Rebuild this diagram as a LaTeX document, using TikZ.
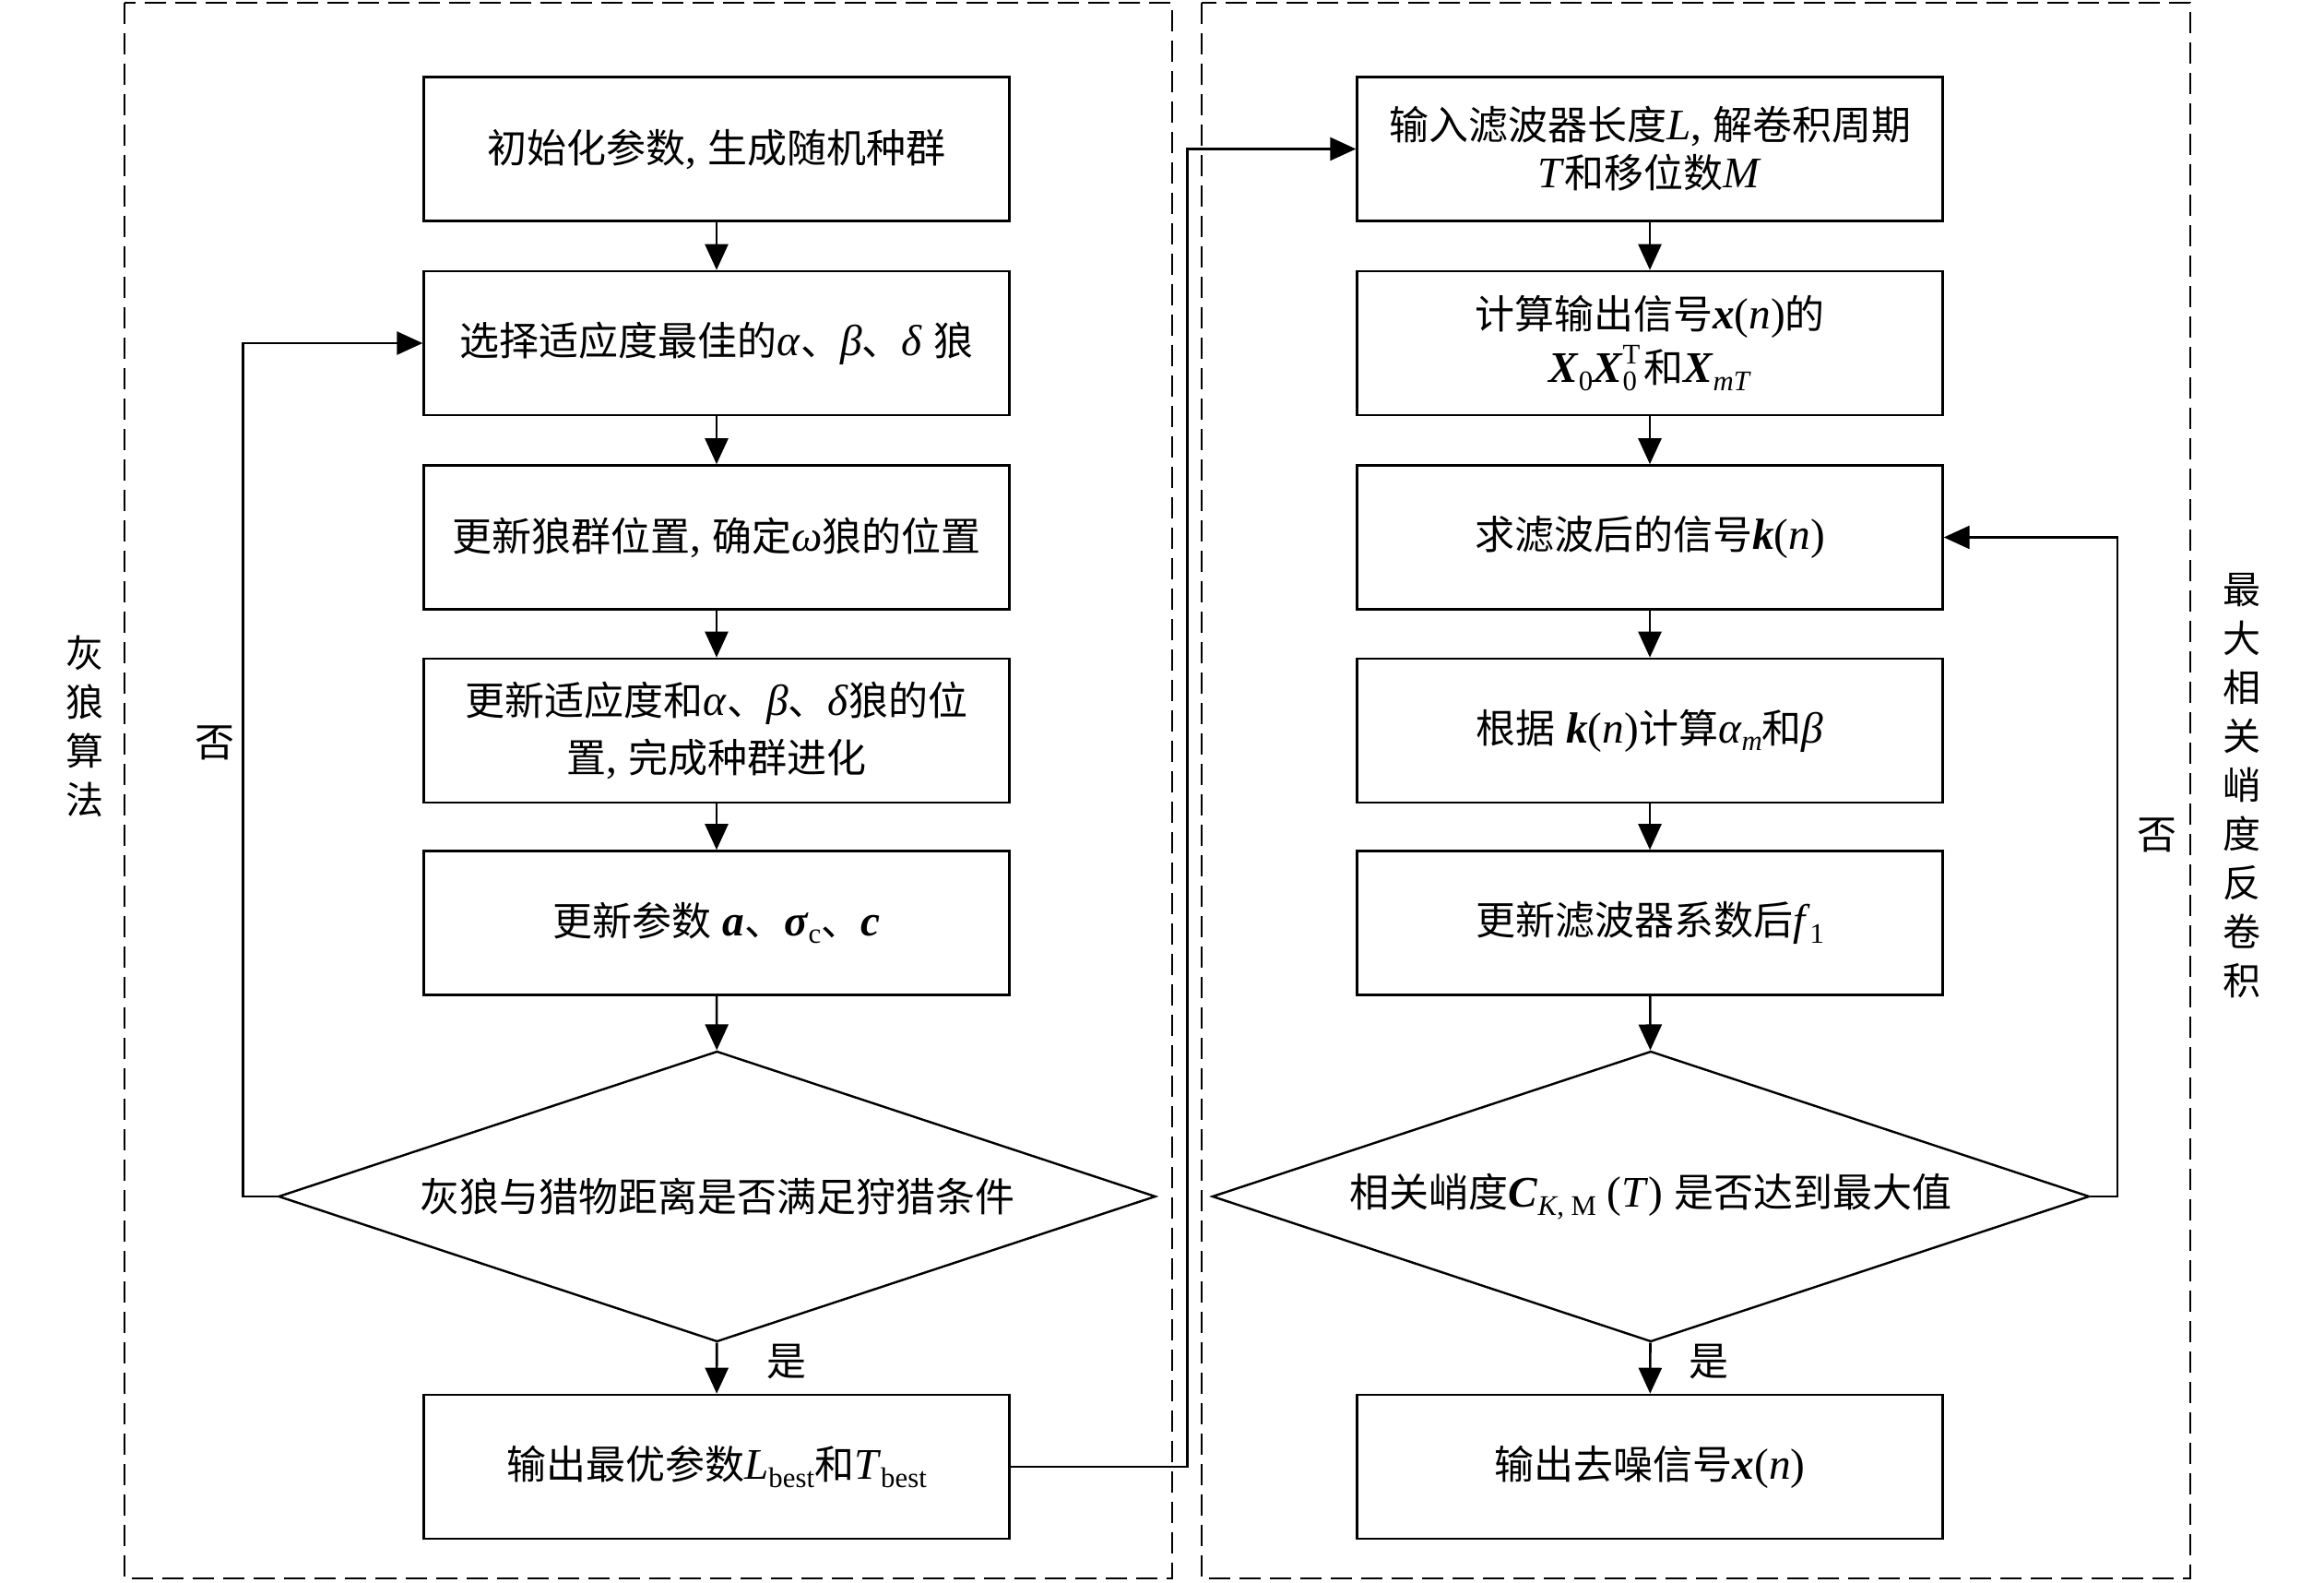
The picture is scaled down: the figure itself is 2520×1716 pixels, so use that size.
\documentclass[tikz,border=0pt]{standalone}
\usepackage{fontspec}
\setmainfont{Liberation Serif}[Scale=1.1]
\newfontfamily\zh{Noto Sans CJK SC}
\usetikzlibrary{shapes.geometric,arrows.meta}
\newcommand{\zc}[1]{{\zh #1}}
\newcommand{\bi}[1]{\textbf{\textit{#1}}}
\newcommand{\mysub}[1]{\raisebox{-0.4ex}{\fontsize{14}{14}\selectfont #1}}
\newcommand{\mysup}[1]{\raisebox{0.95ex}{\fontsize{14}{14}\selectfont #1}}
\tikzset{
  box/.style={draw=black, line width=1.3pt, minimum width=317.4pt, minimum height=78pt,
    inner sep=0pt, align=center, font=\fontsize{21.5}{30}\selectfont},
  dia/.style={draw=black, line width=1.2pt, shape=diamond, aspect=3.02,
    minimum width=475.6pt, minimum height=157.5pt, inner sep=0pt,
    font=\fontsize{21.5}{28}\selectfont},
  arr/.style={line width=1.3pt, -{Triangle[length=14pt,width=12.5pt]}},
  dashbox/.style={line width=1.2pt, dash pattern=on 11.5pt off 5pt},
  lbl/.style={inner sep=0pt, font=\fontsize{21.5}{28}\selectfont},
  vlbl/.style={inner sep=0pt, align=center, font=\fontsize{20.5}{25}\selectfont}
}
\begin{document}
\begin{tikzpicture}[x=0.5pt,y=-0.5pt]
\useasboundingbox (0,0) rectangle (2520,1716);
\fill[white] (0,0) rectangle (2520,1716);

% group frames
\draw[dashbox] (135,3) rectangle (1271,1711);
\draw[dashbox] (1303,3) rectangle (2375,1711);

% left column
\node[box] (l1) at (777,161.5) {\zc{初始化参数}, \zc{生成随机种群}};
\node[box] (l2) at (777,372) {\zc{选择适应度最佳的}\textit{α}\zc{、}\textit{β}\zc{、}\textit{δ} \zc{狼}};
\node[box] (l3) at (777,582.5) {\zc{更新狼群位置}, \zc{确定}\textit{ω}\zc{狼的位置}};
\node[box, font=\fontsize{21.5}{31}\selectfont] (l4) at (777,792) {\zc{更新适应度和}\textit{α}\zc{、}\textit{β}\zc{、}\textit{δ}\zc{狼的位}\\\zc{置}, \zc{完成种群进化}};
\node[box] (l5) at (777,1000.5) {\zc{更新参数} \bi{a}\zc{、}\bi{σ}\mysub{c}\zc{、}\bi{c}};
\node[dia] (ld) at (777.5,1297) {\zc{灰狼与猎物距离是否满足狩猎条件}};
\node[box] (l6) at (777,1590) {\zc{输出最优参数}\textit{L}\mysub{best}\zc{和}\textit{T}\mysub{best}};

% right column
\node[box, font=\fontsize{21.5}{26}\selectfont] (r1) at (1789,161.5) {\zc{输入滤波器长度}\textit{L}, \zc{解卷积周期}\\\textit{T}\zc{和移位数}\textit{M}};
\node[box, font=\fontsize{21.5}{29}\selectfont] (r2) at (1789,372) {\zc{计算输出信号}\bi{x}(\textit{n})\zc{的}\\\bi{X}\mysub{0}\bi{X}\rlap{\mysup{T}}\mysub{0}\hspace{3.5pt}\zc{和}\bi{X}\mysub{\textit{mT}}};
\node[box] (r3) at (1789,582.5) {\zc{求滤波后的信号}\bi{k}(\textit{n})};
\node[box] (r4) at (1789,792) {\zc{根据} \bi{k}(\textit{n})\zc{计算}\textit{α}\mysub{\textit{m}}\zc{和}\textit{β}};
\node[box] (r5) at (1789,1000.5) {\zc{更新滤波器系数后}\textit{f}\mysub{1}};
\node[dia] (rd) at (1790,1297) {\zc{相关峭度}\bi{C}\mysub{\textit{K}, M} (\textit{T}) \zc{是否达到最大值}};
\node[box] (r6) at (1789,1590) {\zc{输出去噪信号}\bi{x}(\textit{n})};

% main flow
\draw[arr] (l1) -- (l2);
\draw[arr] (l2) -- (l3);
\draw[arr] (l3) -- (l4);
\draw[arr] (l4) -- (l5);
\draw[arr] (l5) -- (ld);
\draw[arr] (ld) -- (l6);
\draw[arr] (r1) -- (r2);
\draw[arr] (r2) -- (r3);
\draw[arr] (r3) -- (r4);
\draw[arr] (r4) -- (r5);
\draw[arr] (r5) -- (rd);
\draw[arr] (rd) -- (r6);

% loops
\draw[arr] (ld.west) -- ++(-37,0) |- (l2.west);
\draw[arr] (rd.east) -- ++(29,0) |- (r3.east);
\draw[arr] (l6.east) -- ++(192,0) |- (r1.west);

% labels
\node[lbl] (no1) at (233,805) {\zc{否}};
\node[lbl] (no2) at (2339,905) {\zc{否}};
\node[lbl] (yes1) at (853,1476) {\zc{是}};
\node[lbl] (yes2) at (1853,1476) {\zc{是}};

\node[vlbl, font=\fontsize{20.5}{26.5}\selectfont] (gwo) at (92,787) {\zc{灰}\\\zc{狼}\\\zc{算}\\\zc{法}};
\node[vlbl, font=\fontsize{20.5}{26.5}\selectfont] (mckd) at (2431,852) {\zc{最}\\\zc{大}\\\zc{相}\\\zc{关}\\\zc{峭}\\\zc{度}\\\zc{反}\\\zc{卷}\\\zc{积}};
\end{tikzpicture}
\end{document}
